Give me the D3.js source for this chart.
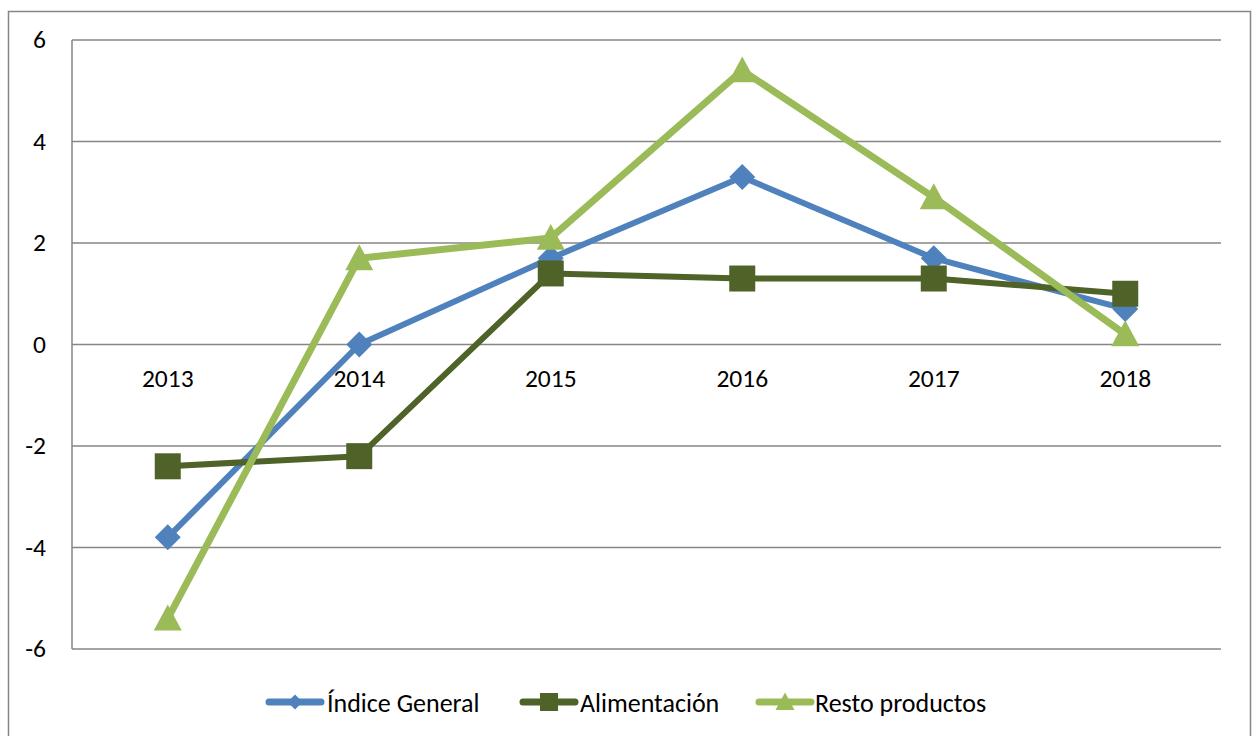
<!DOCTYPE html>
<html>
<head>
<meta charset="utf-8">
<script src="https://cdn.jsdelivr.net/npm/d3@7"></script>
<style>
  html, body { margin: 0; padding: 0; background: #fff; }
  svg { display: block; font-family: "Carlito", "Open Sans", "Noto Sans", sans-serif; }
</style>
</head>
<body>
<svg id="chart" width="1254" height="736"></svg>
<script>
// Annual rates of change by group
const years = ["2013", "2014", "2015", "2016", "2017", "2018"];
const indiceGeneral = [-3.8, 0.0, 1.7, 3.3, 1.7, 0.7];
const alimentacion = [-2.4, -2.2, 1.4, 1.3, 1.3, 1.0];
const restoProductos = [-5.4, 1.7, 2.1, 5.4, 2.9, 0.2];
const yTicks = [-6, -4, -2, 0, 2, 4, 6];

const series = [
  { name: "Índice General", values: indiceGeneral, color: "#4F81BD", marker: "diamond", width: 6 },
  { name: "Alimentación", values: alimentacion, color: "#4F6228", marker: "square", width: 6 },
  { name: "Resto productos", values: restoProductos, color: "#9BBB59", marker: "triangle", width: 7 }
];

const svg = d3.select("#chart");
const plot = { left: 72, right: 1221, top: 40, bottom: 649 };

const x = d3.scaleBand().domain(years).range([plot.left, plot.right]);
const y = d3.scaleLinear().domain([-6, 6]).range([plot.bottom, plot.top]);

// Chart area frame
svg.append("rect")
  .attr("x", 8.5).attr("y", 11.5)
  .attr("width", 1242).attr("height", 760)
  .attr("fill", "none").attr("stroke", "#868686").attr("stroke-width", 1.5);

// Horizontal gridlines
svg.append("g").selectAll("line").data(yTicks).join("line")
  .attr("x1", plot.left).attr("x2", plot.right)
  .attr("y1", d => y(d)).attr("y2", d => y(d))
  .attr("stroke", "#868686").attr("stroke-width", 1.5);

// Vertical value axis line
svg.append("line")
  .attr("x1", plot.left).attr("x2", plot.left)
  .attr("y1", plot.top).attr("y2", plot.bottom)
  .attr("stroke", "#868686").attr("stroke-width", 1.5);

// Value tick labels
svg.append("g").selectAll("text").data(yTicks).join("text")
  .attr("x", 46).attr("y", d => y(d) + 8)
  .attr("text-anchor", "end")
  .attr("font-size", 25.5).attr("fill", "#000")
  .text(d => d);

// Category labels, drawn just below the zero line
svg.append("g").selectAll("text").data(years).join("text")
  .attr("x", d => x(d) + x.bandwidth() / 2)
  .attr("y", y(0) + 42)
  .attr("text-anchor", "middle")
  .attr("font-size", 25.5).attr("fill", "#000")
  .text(d => d);

function markerPath(type, s) {
  const h = s / 2;
  if (type === "diamond") return `M0,${-h}L${h},0L0,${h}L${-h},0Z`;
  if (type === "square") return `M${-h},${-h}H${h}V${h}H${-h}Z`;
  // triangle pointing up
  return `M0,${-h}L${h},${h * 0.85}L${-h},${h * 0.85}Z`;
}
const markerSize = { diamond: 26, square: 26, triangle: 28 };

const line = d3.line()
  .x((d, i) => x(years[i]) + x.bandwidth() / 2)
  .y(d => y(d));

series.forEach(s => {
  const g = svg.append("g");
  g.append("path")
    .attr("d", line(s.values))
    .attr("fill", "none")
    .attr("stroke", s.color)
    .attr("stroke-width", s.width)
    .attr("stroke-linejoin", "round")
    .attr("stroke-linecap", "round");
  g.selectAll("path.m").data(s.values).join("path")
    .attr("class", "m")
    .attr("transform", (d, i) => `translate(${x(years[i]) + x.bandwidth() / 2},${y(d)})`)
    .attr("d", markerPath(s.marker, markerSize[s.marker]))
    .attr("fill", s.color);
});

// Legend
const legendY = 702;
const legendItems = [
  { x0: 269, text: 327 },
  { x0: 523, text: 580 },
  { x0: 759, text: 815 }
];
series.forEach((s, i) => {
  const it = legendItems[i];
  const g = svg.append("g");
  g.append("line")
    .attr("x1", it.x0).attr("x2", it.x0 + 52)
    .attr("y1", legendY).attr("y2", legendY)
    .attr("stroke", s.color).attr("stroke-width", 7)
    .attr("stroke-linecap", "round");
  const legSize = { diamond: 15, square: 18, triangle: 19 }[s.marker];
  g.append("path")
    .attr("transform", `translate(${it.x0 + 26},${legendY})`)
    .attr("d", markerPath(s.marker, legSize))
    .attr("fill", s.color);
  g.append("text")
    .attr("x", it.text).attr("y", legendY + 10)
    .attr("font-size", 26).attr("fill", "#000")
    .text(s.name);
});
</script>
</body>
</html>
